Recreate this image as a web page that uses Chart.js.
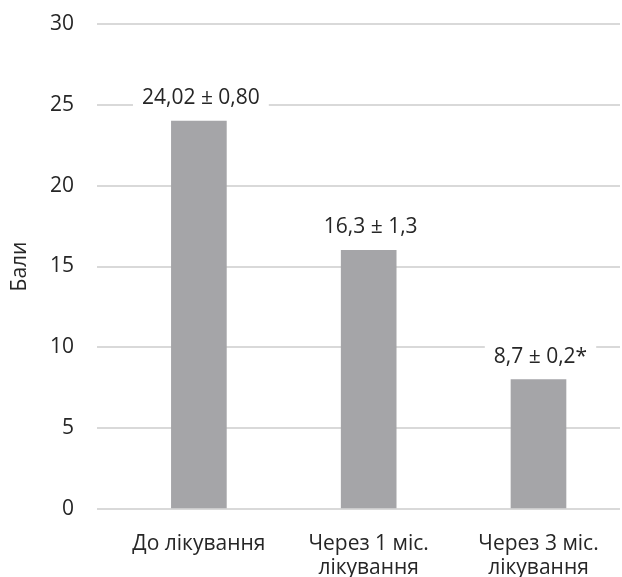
<!DOCTYPE html>
<html>
<head>
<meta charset="utf-8">
<script src="https://cdn.jsdelivr.net/npm/chart.js@4/dist/chart.umd.min.js"></script>
<style>
  html, body { margin: 0; padding: 0; background: #fff; }
  #wrap { width: 622px; height: 577px; }
</style>
</head>
<body>
<div id="wrap"><canvas id="chart" width="622" height="577"></canvas></div>
<script>
const categories = [['До лікування'], ['Через 1 міс.', 'лікування'], ['Через 3 міс.', 'лікування']];
const values = [24, 16, 8];
const valueLabels = ['24,02 ± 0,80', '16,3 ± 1,3', '8,7 ± 0,2*'];
const yTicks = [0, 5, 10, 15, 20, 25, 30];

const textColor = '#262626';
const font = { family: '"Open Sans", sans-serif', size: 21, lineHeight: 1.15 };

// labels above bars, with a white box that cuts the gridline
const barLabels = {
    id: 'barLabels',
    afterDatasetsDraw(chart) {
        const ctx = chart.ctx;
        const meta = chart.getDatasetMeta(0);
        ctx.save();
        ctx.font = '21px "Open Sans", sans-serif';
        ctx.textAlign = 'center';
        ctx.textBaseline = 'middle';
        meta.data.forEach((bar, i) => {
            const x = bar.x + 2;
            const y = bar.y - 23;
            const w = ctx.measureText(valueLabels[i]).width + 18;
            ctx.fillStyle = '#fff';
            ctx.fillRect(x - w / 2, y - 12, w, 24);
            ctx.fillStyle = textColor;
            ctx.fillText(valueLabels[i], x, y);
        });
        ctx.restore();
    }
};

new Chart(document.getElementById('chart'), {
    type: 'bar',
    data: {
        datasets: [{
            data: values.map((v, i) => ({ x: i + 1, y: v })),
            backgroundColor: '#a5a5a8',
            barThickness: 55
        }]
    },
    options: {
        responsive: false,
        animation: false,
        layout: { padding: { top: 24, right: 2, left: 0, bottom: 0 } },
        plugins: { legend: { display: false }, tooltip: { enabled: false } },
        scales: {
            x: {
                type: 'linear',
                offset: false,
                min: 0.4,
                max: 3.48,
                afterBuildTicks: scale => { scale.ticks = categories.map((c, i) => ({ value: i + 1 })); },
                afterFit: scale => { scale.height = 68; },
                ticks: {
                    color: textColor,
                    font,
                    padding: 15,
                    maxRotation: 0,
                    autoSkip: false,
                    callback: v => categories[v - 1]
                },
                grid: { display: false },
                border: { display: false }
            },
            y: {
                min: 0,
                max: 30,
                afterBuildTicks: scale => { scale.ticks = yTicks.map(v => ({ value: v })); },
                afterFit: scale => {
                    scale.width = 97;
                    scale.paddingTop = 0;
                    scale.paddingBottom = 0;
                },
                ticks: { color: textColor, font, padding: 23 },
                grid: { color: '#d9d9d9', lineWidth: 2, drawTicks: false },
                border: { display: false },
                title: { display: true, text: 'Бали', color: textColor, font, padding: { top: 8, bottom: 0 } }
            }
        }
    },
    plugins: [barLabels]
});
</script>
</body>
</html>
